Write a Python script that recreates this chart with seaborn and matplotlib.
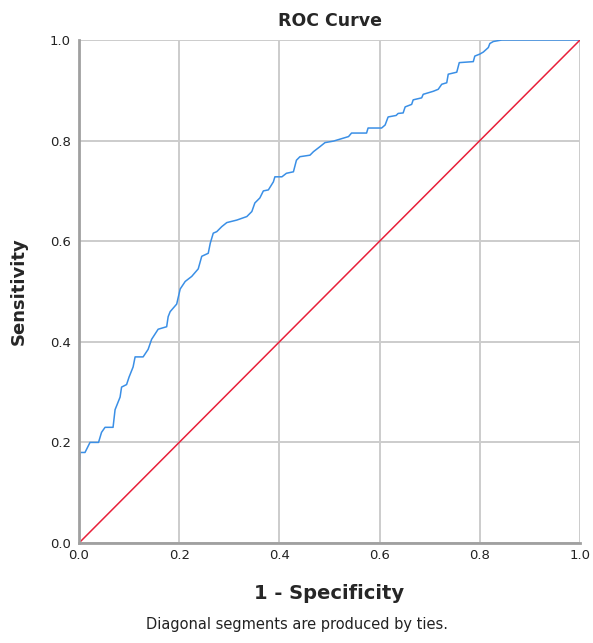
import numpy as np
import pandas as pd
import matplotlib
matplotlib.use("Agg")
import matplotlib.pyplot as plt
import seaborn as sns

# ROC curve vertices (1 - specificity, sensitivity)
fpr = [0.0, 0.0, 0.002, 0.012, 0.022, 0.039, 0.045, 0.052, 0.068, 0.072,
       0.082, 0.085, 0.095, 0.100, 0.108, 0.112, 0.128, 0.138, 0.145, 0.158,
       0.175, 0.178, 0.182, 0.195, 0.202, 0.212, 0.225, 0.238, 0.245, 0.258,
       0.262, 0.268, 0.275, 0.285, 0.295, 0.315, 0.335, 0.345, 0.351, 0.361,
       0.368, 0.378, 0.388, 0.391, 0.405, 0.414, 0.428, 0.434, 0.441, 0.461,
       0.468, 0.481, 0.491, 0.508, 0.528, 0.538, 0.544, 0.574, 0.577, 0.604,
       0.611, 0.617, 0.633, 0.637, 0.647, 0.651, 0.664, 0.667, 0.684, 0.687,
       0.707, 0.717, 0.724, 0.734, 0.737, 0.754, 0.759, 0.787, 0.790, 0.800,
       0.807, 0.817, 0.820, 0.827, 0.844, 1.0]
tpr = [0.0, 0.125, 0.180, 0.180, 0.200, 0.200, 0.220, 0.230, 0.230, 0.265,
       0.290, 0.310, 0.315, 0.330, 0.350, 0.370, 0.370, 0.385, 0.405, 0.425,
       0.430, 0.450, 0.460, 0.475, 0.505, 0.520, 0.530, 0.545, 0.570, 0.576,
       0.596, 0.616, 0.619, 0.629, 0.637, 0.642, 0.649, 0.659, 0.676, 0.686,
       0.700, 0.702, 0.718, 0.728, 0.728, 0.735, 0.738, 0.761, 0.768, 0.771,
       0.778, 0.788, 0.796, 0.799, 0.805, 0.808, 0.815, 0.815, 0.825, 0.825,
       0.831, 0.847, 0.850, 0.854, 0.855, 0.867, 0.872, 0.881, 0.885, 0.892,
       0.898, 0.902, 0.912, 0.915, 0.932, 0.936, 0.955, 0.957, 0.968, 0.972,
       0.976, 0.985, 0.993, 0.997, 1.0, 1.0]
ref_line = [0.0, 1.0]
ticks = [0.0, 0.2, 0.4, 0.6, 0.8, 1.0]

roc = pd.DataFrame({"fpr": fpr, "tpr": tpr})
diag = pd.DataFrame({"x": ref_line, "y": ref_line})

sns.set_style("whitegrid", {"grid.color": "#cccccc", "axes.edgecolor": "#a0a0a0"})
plt.rcParams["font.family"] = ["DejaVu Sans"]

fig = plt.figure(figsize=(5.93, 6.43), dpi=100)
ax = fig.add_axes([0.1332, 0.1555, 0.8449, 0.7823])

sns.lineplot(data=roc, x="fpr", y="tpr", sort=False, estimator=None,
             color="#3a8fe6", linewidth=1.1, ax=ax)
sns.lineplot(data=diag, x="x", y="y", sort=False, estimator=None,
             color="#e8203a", linewidth=1.1, ax=ax)

ax.set_xlim(0, 1)
ax.set_ylim(0, 1)
ax.set_xticks(ticks)
ax.set_yticks(ticks)
ax.set_xticklabels([f"{t:.1f}" for t in ticks], fontsize=9.5, color="#222222")
ax.set_yticklabels([f"{t:.1f}" for t in ticks], fontsize=9.5, color="#222222")
ax.tick_params(axis="x", length=0, pad=4)
ax.tick_params(axis="y", length=0, pad=6)
ax.grid(True, linewidth=1.4)

for side in ["top", "right"]:
    ax.spines[side].set_visible(False)
for side in ["left", "bottom"]:
    ax.spines[side].set_linewidth(2)

ax.set_xlabel("1 - Specificity", fontsize=14, fontweight="bold", labelpad=16)
ax.set_ylabel("Sensitivity", fontsize=13, fontweight="bold", labelpad=16)
ax.set_title("ROC Curve", fontsize=12.5, fontweight="bold", pad=10)

fig.text(0.5, 0.017, "Diagonal segments are produced by ties.",
         ha="center", va="bottom", fontsize=10.5, color="#222222")

fig.savefig("out.png", dpi=100, facecolor="white")
